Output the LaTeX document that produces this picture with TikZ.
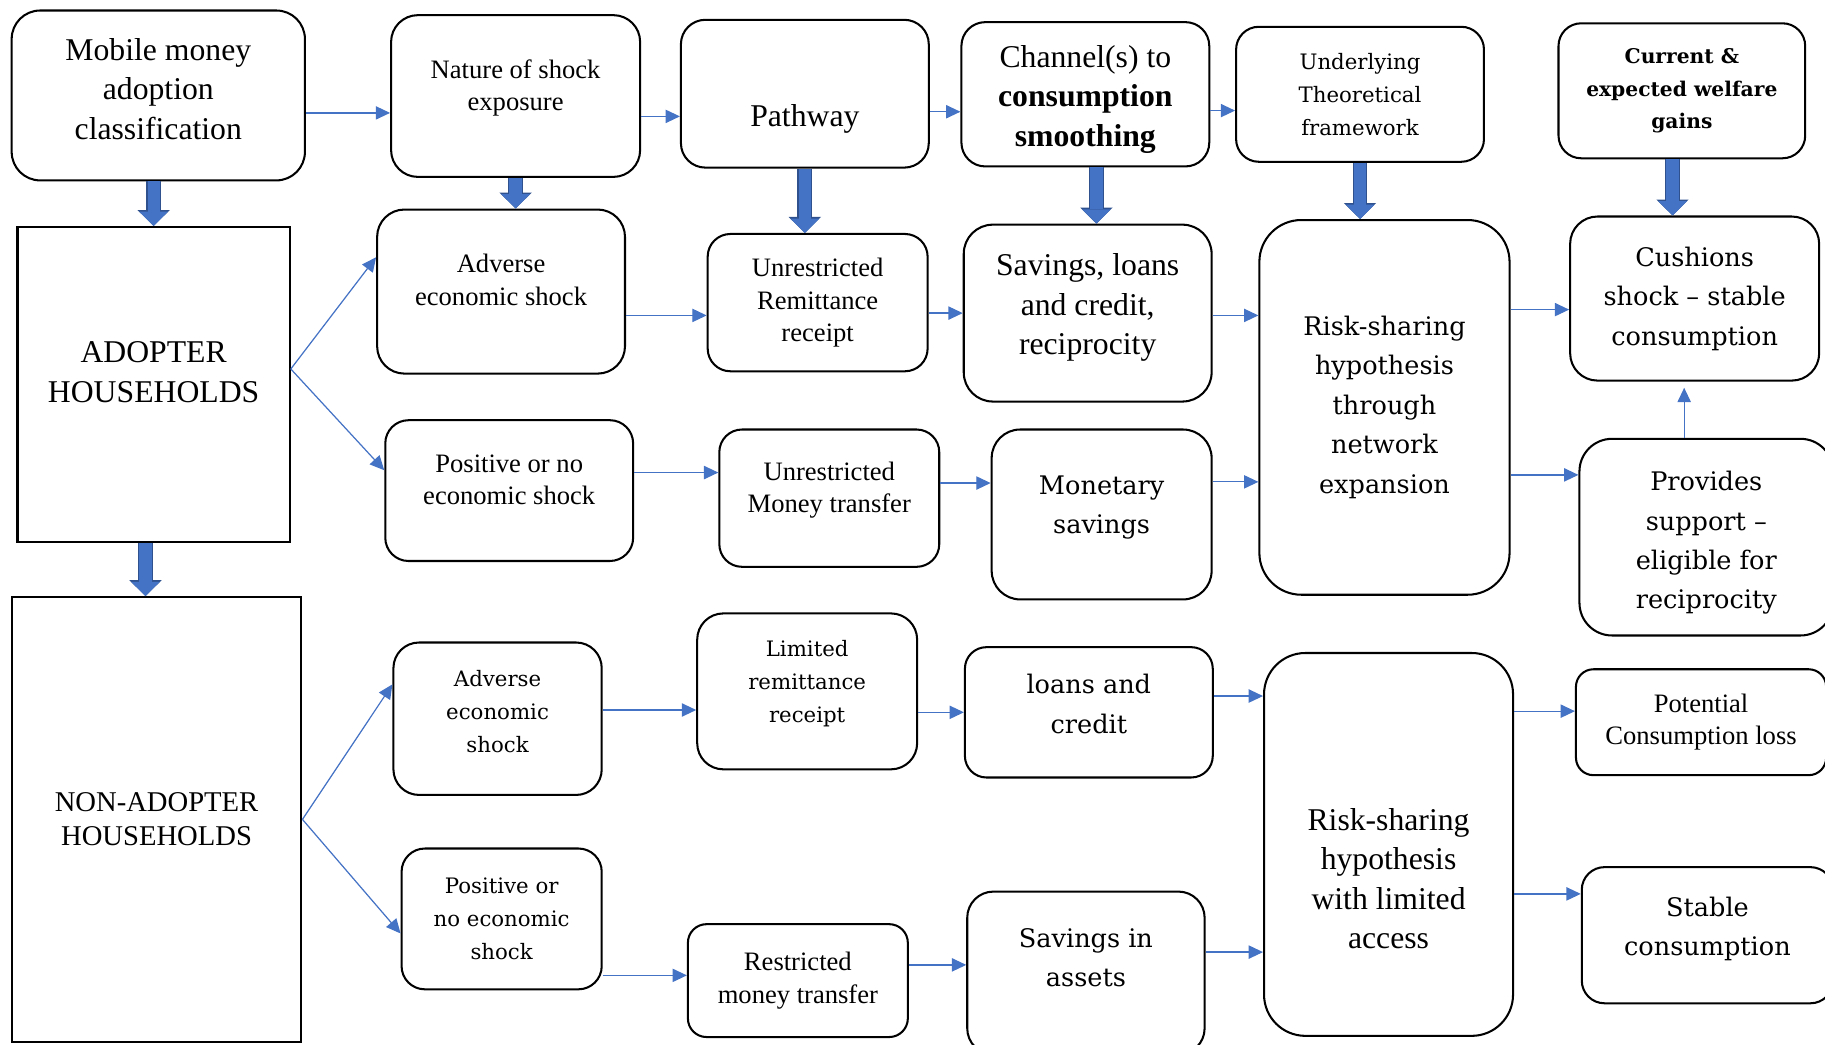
\documentclass[tikz,border=0pt]{standalone}
\usepackage{fontspec}
\setmainfont{Liberation Serif}
\newfontfamily\centfont{DejaVu Serif}
\usepackage{tikz}
\usetikzlibrary{arrows.meta}
\definecolor{linkblue}{HTML}{4472C4}
\definecolor{fatedge}{HTML}{2F528F}

% text block moved up (or down) inside its box
\newcommand{\txtshift}[2]{\raisebox{#1}[\height][\depth]{\begin{tabular}{@{}c@{}}#2\end{tabular}}}

\tikzset{
  box/.style={draw, line width=1pt, rounded corners=#1, align=center, inner sep=2pt},
  box/.default=0.45cm,
  hhbox/.style={draw, line width=1pt, align=center},
  tbig/.style={font=\fontsize{15.5}{19.3}\selectfont},
  tsmall/.style={font=\fontsize{13}{16}\selectfont},
  cbig/.style={font=\centfont\fontsize{12.5}{19.3}\selectfont},
  csmall/.style={font=\centfont\fontsize{10.4}{16.2}\selectfont},
  cbold/.style={font=\centfont\bfseries\fontsize{9.9}{16}\selectfont},
  link/.style={draw=linkblue, line width=0.6pt, -{Triangle[length=7pt,width=6.5pt]}},
  fat/.style={draw=linkblue, line width=6pt, -{Triangle[length=7pt,width=14pt,line width=0pt]},
    preaction={draw=fatedge, line width=7.2pt, -{Triangle[length=7.8pt,width=15.8pt,line width=0pt]}}},
}

\begin{document}
\begin{tikzpicture}[x=0.02cm, y=-0.02cm]
  \useasboundingbox (0,0) rectangle (1568,897);

  % top row
  \node[box=0.49cm, tbig, minimum width=5.04cm, minimum height=2.92cm] (mm) at (136,82) {\txtshift{1.8pt}{Mobile money\\adoption\\classification}};
  \node[box=0.46cm, tsmall, minimum width=4.28cm, minimum height=2.78cm] (nature) at (443,82.5) {\txtshift{4pt}{Nature of shock\\exposure}};
  \node[box=0.42cm, tbig, minimum width=4.26cm, minimum height=2.54cm, text height=35pt] (pathway) at (691.5,80.5) {Pathway};
  \node[box=0.41cm, tbig, minimum width=4.26cm, minimum height=2.48cm] (channel) at (932.5,81) {\txtshift{-2.3pt}{Channel(s) to\\\textbf{consumption}\\\textbf{smoothing}}};
  \node[box=0.39cm, csmall, minimum width=4.26cm, minimum height=2.32cm] (theory) at (1168.5,81) {Underlying\\Theoretical\\framework};
  \node[box=0.39cm, cbold, minimum width=4.24cm, minimum height=2.32cm] (gains) at (1445,78) {Current \&\\expected welfare\\gains};

  % adopters
  \node[hhbox, tbig, minimum width=4.68cm, minimum height=5.42cm] (adopt) at (132,330.5) {\txtshift{5pt}{ADOPTER\\HOUSEHOLDS}};
  \node[box=0.47cm, tsmall, minimum width=4.26cm, minimum height=2.82cm] (adv1) at (430.5,250.5) {\txtshift{4.3pt}{Adverse\\economic shock}};
  \node[box=0.39cm, tsmall, minimum width=3.78cm, minimum height=2.36cm] (unrem) at (702.5,260) {Unrestricted\\Remittance\\receipt};
  \node[box=0.5cm, tbig, minimum width=4.26cm, minimum height=3.04cm] (savloan) at (934.5,269) {\txtshift{2.8pt}{Savings, loans\\and credit,\\reciprocity}};
  \node[box=0.72cm, cbig, minimum width=4.30cm, minimum height=6.44cm] (risk1) at (1189.5,350) {Risk-sharing\\hypothesis\\through\\network\\expansion};
  \node[box=0.47cm, cbig, minimum width=4.28cm, minimum height=2.82cm] (cushion) at (1456,256.5) {Cushions\\shock – stable\\consumption};
  \node[box=0.4cm, tsmall, minimum width=4.26cm, minimum height=2.42cm] (pos1) at (437.5,421.5) {\txtshift{4.2pt}{Positive or no\\economic shock}};
  \node[box=0.39cm, tsmall, minimum width=3.78cm, minimum height=2.36cm] (unmoney) at (712.5,428) {\txtshift{4pt}{Unrestricted\\Money transfer}};
  \node[box=0.49cm, cbig, minimum width=3.78cm, minimum height=2.92cm] (monsave) at (946.5,442) {\txtshift{4pt}{Monetary\\savings}};
  \node[box=0.56cm, cbig, minimum width=4.36cm, minimum height=3.38cm] (support) at (1466,461.5) {\txtshift{-2.3pt}{Provides\\support –\\eligible for\\reciprocity}};

  % non-adopters
  \node[hhbox, font=\fontsize{14}{16.5}\selectfont, minimum width=4.98cm, minimum height=7.64cm] (nonadopt) at (134.5,704) {NON-ADOPTER\\HOUSEHOLDS};
  \node[box=0.44cm, csmall, minimum width=3.58cm, minimum height=2.62cm] (adv2) at (427.5,617.5) {\txtshift{3pt}{Adverse\\economic\\shock}};
  \node[box=0.45cm, csmall, minimum width=3.78cm, minimum height=2.68cm] (limrem) at (693.5,594) {\txtshift{4pt}{Limited\\remittance\\receipt}};
  \node[box=0.37cm, cbig, minimum width=4.26cm, minimum height=2.24cm] (loans) at (935.5,612) {\txtshift{3.4pt}{loans and\\credit}};
  \node[box=0.71cm, tbig, minimum width=4.28cm, minimum height=6.58cm] (risk2) at (1193,725.5) {\txtshift{-18.2pt}{Risk-sharing\\hypothesis\\with limited\\access}};
  \node[box=0.3cm, tsmall, minimum width=4.30cm, minimum height=1.82cm] (loss) at (1461.5,620.5) {Potential\\Consumption loss};
  \node[box=0.4cm, csmall, minimum width=3.44cm, minimum height=2.42cm] (pos2) at (431,789.5) {Positive or\\no economic\\shock};
  \node[box=0.32cm, tsmall, minimum width=3.78cm, minimum height=1.94cm] (resmoney) at (685.5,842.5) {Restricted\\money transfer};
  \node[box=0.45cm, cbig, minimum width=4.08cm, minimum height=2.8cm] (assets) at (933,836) {\txtshift{6.8pt}{Savings in\\assets}};
  \node[box=0.39cm, cbig, minimum width=4.32cm, minimum height=2.34cm] (stable) at (1467,803.5) {\txtshift{3.4pt}{Stable\\consumption}};

  % thick arrows
  \draw[fat] (adopt.north |- mm.south) -- (adopt.north);
  \draw[fat] (nature.south) -- (nature.south |- adv1.north);
  \draw[fat] (pathway.south) -- (pathway.south |- unrem.north);
  \draw[fat] (942,0 |- channel.south) -- (942,0 |- savloan.north);
  \draw[fat] (theory.south) -- (theory.south |- risk1.north);
  \draw[fat] (1437,0 |- gains.south) -- (1437,0 |- cushion.north);
  \draw[fat] (125,0 |- adopt.south) -- (125,0 |- nonadopt.north);

  % thin arrows, top row
  \draw[link] (mm.east |- 0,97) -- (nature.west |- 0,97);
  \draw[link] (nature.east |- 0,100) -- (pathway.west |- 0,100);
  \draw[link] (pathway.east |- 0,96) -- (channel.west |- 0,96);
  \draw[link] (channel.east |- 0,95) -- (theory.west |- 0,95);

  % adopters
  \draw[link] (adopt.east |- 0,317) -- (adv1.west |- 0,221);
  \draw[link] (adopt.east |- 0,317) -- (pos1.west |- 0,404);
  \draw[link] (adv1.east |- 0,271) -- (unrem.west |- 0,271);
  \draw[link] (unrem.east |- 0,269) -- (savloan.west |- 0,269);
  \draw[link] (savloan.east |- 0,271) -- (risk1.west |- 0,271);
  \draw[link] (risk1.east |- 0,266) -- (cushion.west |- 0,266);
  \draw[link] (pos1.east |- 0,406) -- (unmoney.west |- 0,406);
  \draw[link] (unmoney.east |- 0,415) -- (monsave.west |- 0,415);
  \draw[link] (monsave.east |- 0,414) -- (risk1.west |- 0,414);
  \draw[link] (risk1.east |- 0,408) -- (support.west |- 0,408);
  \draw[link, shorten >=3pt] (1447,0 |- support.north) -- (1447,0 |- cushion.south);

  % non-adopters
  \draw[link] (nonadopt.east) -- (adv2.west |- 0,588);
  \draw[link] (nonadopt.east) -- (pos2.west |- 0,802);
  \draw[link] (adv2.east |- 0,610) -- (limrem.west |- 0,610);
  \draw[link] (limrem.east |- 0,612) -- (loans.west |- 0,612);
  \draw[link] (loans.east |- 0,598) -- (risk2.west |- 0,598);
  \draw[link] (pos2.east |- 0,838) -- (resmoney.west |- 0,838);
  \draw[link] (resmoney.east |- 0,829) -- (assets.west |- 0,829);
  \draw[link] (assets.east |- 0,818) -- (risk2.west |- 0,818);
  \draw[link] (risk2.east |- 0,611) -- (loss.west |- 0,611);
  \draw[link] (risk2.east |- 0,768) -- (stable.west |- 0,768);
\end{tikzpicture}
\end{document}
